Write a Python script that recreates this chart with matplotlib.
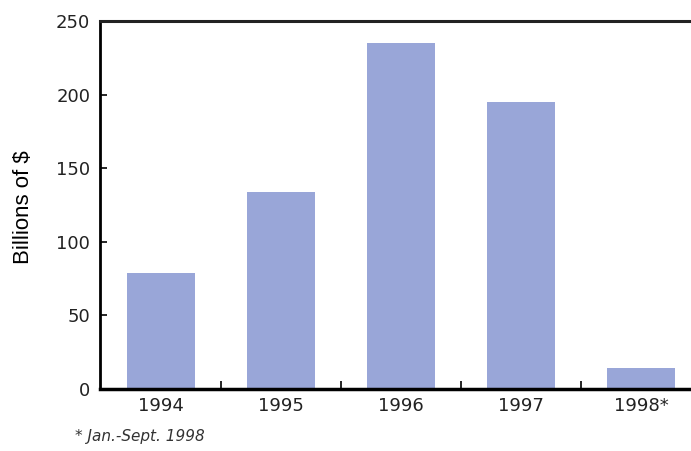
import numpy as np
import matplotlib
matplotlib.use("Agg")
from matplotlib import pyplot as plt

years = ["1994", "1995", "1996", "1997", "1998*"]
values = [79, 134, 235, 195, 14]
y_ticks = [0, 50, 100, 150, 200, 250]
footnote = "* Jan.-Sept. 1998"

plt.rcParams["font.family"] = ["DejaVu Sans"]

fig = plt.figure(figsize=(6.91, 4.51), dpi=100)
ax = fig.add_axes([100 / 691, 62 / 451, 591 / 691, 368 / 451])

x = np.arange(len(years))
ax.bar(x, values, width=0.567, color="#99a6d8", edgecolor="none")

ax.set_xlim(-0.508, 4.417)
ax.set_ylim(0, 250)

# spines: dotted left/bottom, solid top
ax.spines["right"].set_visible(False)
ax.spines["top"].set_linewidth(2.2)
ax.spines["top"].set_color("#222222")
ax.spines["left"].set_linestyle((0, (1, 1)))
ax.spines["left"].set_linewidth(2)
ax.spines["bottom"].set_linestyle((0, (1, 1)))
ax.spines["bottom"].set_linewidth(2.5)

ax.set_yticks(y_ticks)
ax.set_yticklabels([str(v) for v in y_ticks], fontsize=13, color="#222222")
ax.tick_params(axis="y", direction="in", length=5, width=1.2, pad=7)

ax.set_xticks(x)
ax.set_xticklabels(years, fontsize=13, color="#222222")
ax.tick_params(axis="x", which="major", length=0, pad=6)
ax.set_xticks(x[:-1] + 0.5, minor=True)
ax.tick_params(axis="x", which="minor", direction="in", length=6, width=1.2)

ax.set_ylabel("Billions of $", fontsize=16, family=["Liberation Sans"])
ax.yaxis.set_label_coords(-0.112, 0.495)

fig.text(75 / 691, 1 - 437 / 451, footnote, fontsize=11, style="italic",
         color="#333333", va="center")

fig.savefig("out.png", dpi=100)
